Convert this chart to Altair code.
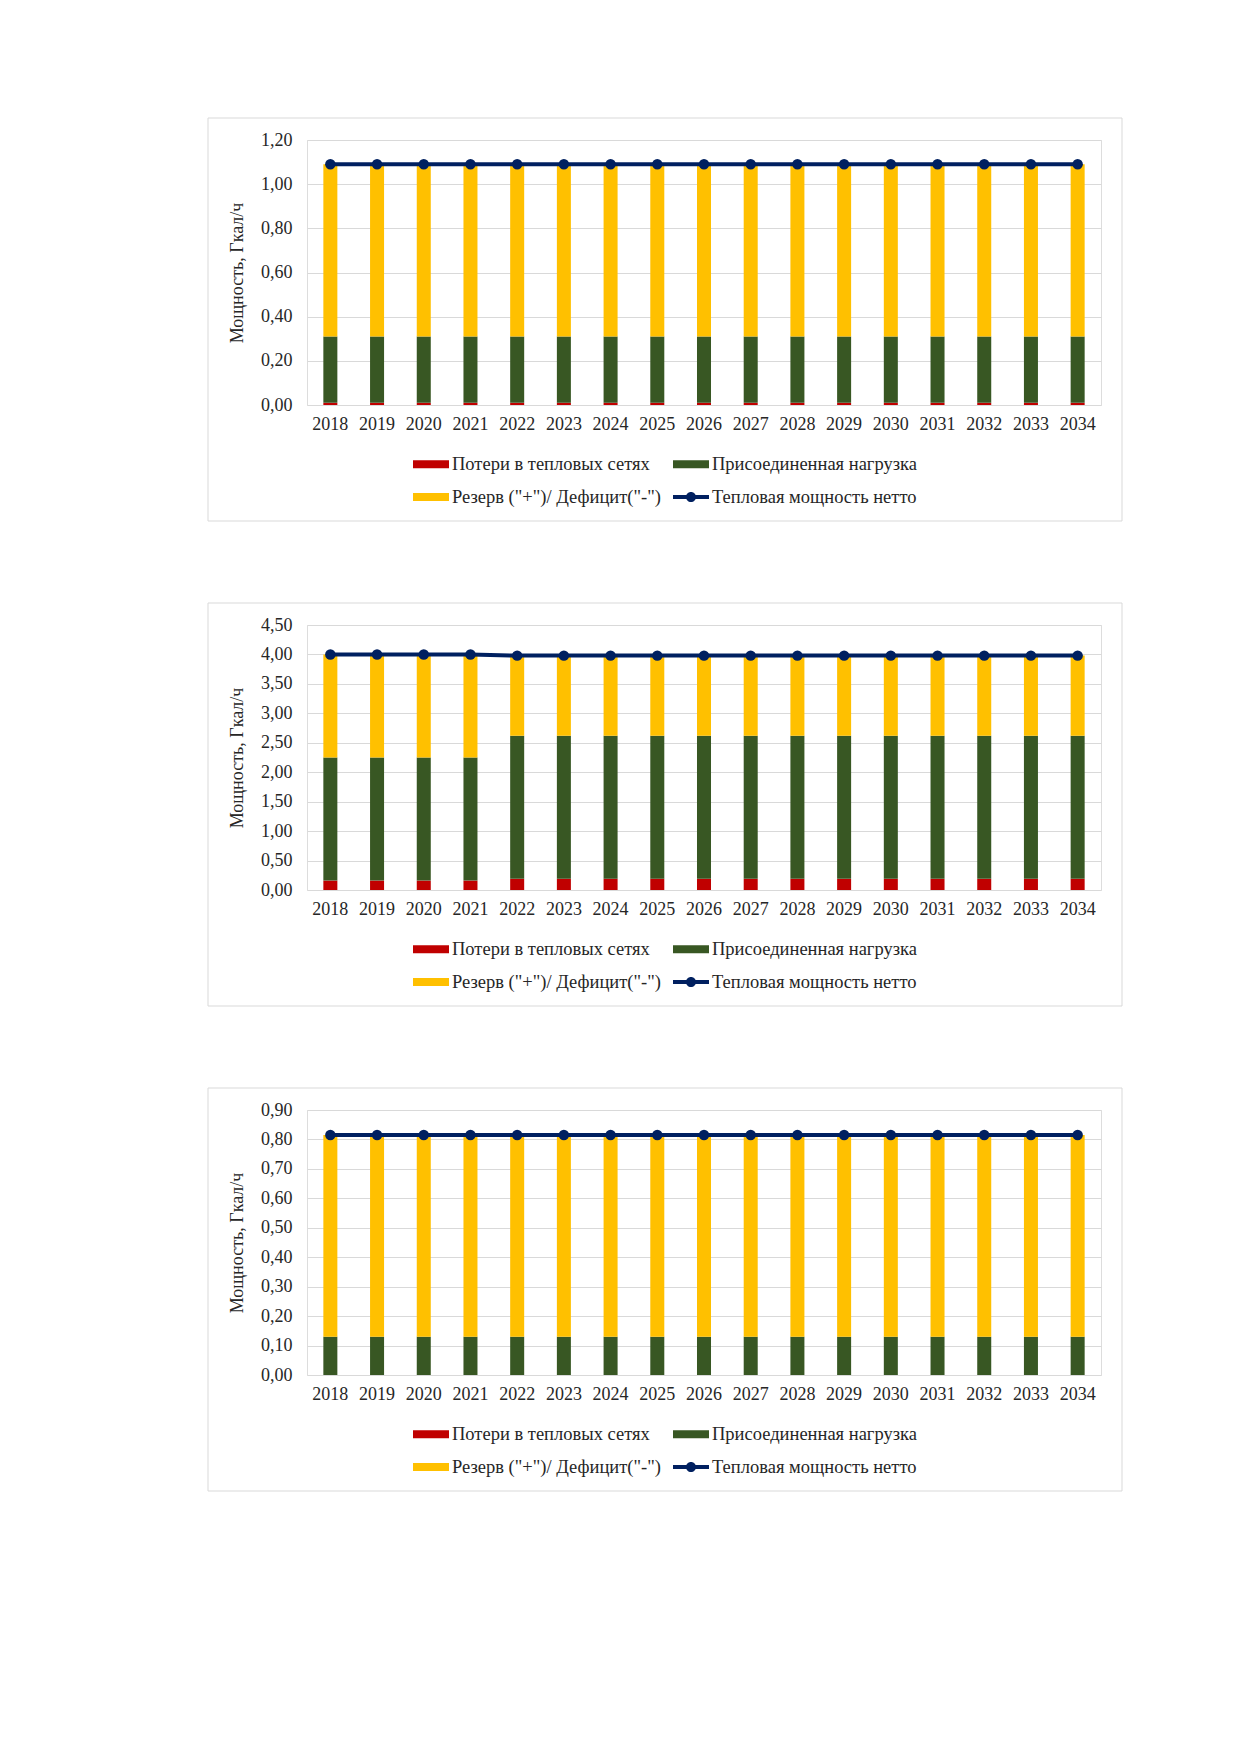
import altair as alt
import pandas as pd

years = ["2018", "2019", "2020", "2021", "2022", "2023", "2024", "2025", "2026",
         "2027", "2028", "2029", "2030", "2031", "2032", "2033", "2034"]

series_names = ["Потери в тепловых сетях", "Присоединенная нагрузка",
                'Резерв ("+")/ Дефицит("-")', "Тепловая мощность нетто"]
series_colors = ["#C00000", "#385723", "#FFC000", "#002060"]

# Chart 1
c1_losses = [0.01, 0.01, 0.01, 0.01, 0.01, 0.01, 0.01, 0.01, 0.01, 0.01, 0.01, 0.01, 0.01, 0.01, 0.01, 0.01, 0.01]
c1_load = [0.30, 0.30, 0.30, 0.30, 0.30, 0.30, 0.30, 0.30, 0.30, 0.30, 0.30, 0.30, 0.30, 0.30, 0.30, 0.30, 0.30]
c1_reserve = [0.78, 0.78, 0.78, 0.78, 0.78, 0.78, 0.78, 0.78, 0.78, 0.78, 0.78, 0.78, 0.78, 0.78, 0.78, 0.78, 0.78]
c1_net = [1.09, 1.09, 1.09, 1.09, 1.09, 1.09, 1.09, 1.09, 1.09, 1.09, 1.09, 1.09, 1.09, 1.09, 1.09, 1.09, 1.09]
c1_ticks = [0.0, 0.2, 0.4, 0.6, 0.8, 1.0, 1.2]

# Chart 2
c2_losses = [0.16, 0.16, 0.16, 0.16, 0.19, 0.19, 0.19, 0.19, 0.19, 0.19, 0.19, 0.19, 0.19, 0.19, 0.19, 0.19, 0.19]
c2_load = [2.09, 2.09, 2.09, 2.09, 2.43, 2.43, 2.43, 2.43, 2.43, 2.43, 2.43, 2.43, 2.43, 2.43, 2.43, 2.43, 2.43]
c2_reserve = [1.75, 1.75, 1.75, 1.75, 1.36, 1.36, 1.36, 1.36, 1.36, 1.36, 1.36, 1.36, 1.36, 1.36, 1.36, 1.36, 1.36]
c2_net = [4.00, 4.00, 4.00, 4.00, 3.98, 3.98, 3.98, 3.98, 3.98, 3.98, 3.98, 3.98, 3.98, 3.98, 3.98, 3.98, 3.98]
c2_ticks = [0.0, 0.5, 1.0, 1.5, 2.0, 2.5, 3.0, 3.5, 4.0, 4.5]

# Chart 3
c3_losses = [0.0, 0.0, 0.0, 0.0, 0.0, 0.0, 0.0, 0.0, 0.0, 0.0, 0.0, 0.0, 0.0, 0.0, 0.0, 0.0, 0.0]
c3_load = [0.13, 0.13, 0.13, 0.13, 0.13, 0.13, 0.13, 0.13, 0.13, 0.13, 0.13, 0.13, 0.13, 0.13, 0.13, 0.13, 0.13]
c3_reserve = [0.685, 0.685, 0.685, 0.685, 0.685, 0.685, 0.685, 0.685, 0.685, 0.685, 0.685, 0.685, 0.685, 0.685, 0.685, 0.685, 0.685]
c3_net = [0.815, 0.815, 0.815, 0.815, 0.815, 0.815, 0.815, 0.815, 0.815, 0.815, 0.815, 0.815, 0.815, 0.815, 0.815, 0.815, 0.815]
c3_ticks = [0.0, 0.1, 0.2, 0.3, 0.4, 0.5, 0.6, 0.7, 0.8, 0.9]

FONT = "Liberation Serif"
TXT = "#262626"
GRID = "#D9D9D9"
PLOT_W = 794
PLOT_H = 265

LINE_SYM = ("M-1,-0.11L1,-0.11L1,0.11L-1,0.11Z "
            "M-0.28,0A0.28,0.28 0 1,1 0.28,0A0.28,0.28 0 1,1 -0.28,0Z")
RECT_SYM = "M-1,-0.22L1,-0.22L1,0.22L-1,0.22Z"
sym_expr = ("datum.value == '" + series_names[3] + "' ? '" + LINE_SYM + "' : '" + RECT_SYM + "'")


def panel(losses, load, reserve, net, ticks):
    rows = []
    for i, yr in enumerate(years):
        rows.append({"year": yr, "series": series_names[0], "value": losses[i], "k": 0})
        rows.append({"year": yr, "series": series_names[1], "value": load[i], "k": 1})
        rows.append({"year": yr, "series": series_names[2], "value": reserve[i], "k": 2})
    bars_df = pd.DataFrame(rows)
    net_df = pd.DataFrame({"year": years, "net": net})

    xenc = alt.X("year:N", sort=years,
                 scale=alt.Scale(paddingInner=0.7, paddingOuter=0.35),
                 axis=alt.Axis(title=None, labelAngle=0, domain=False, ticks=False,
                               grid=False, labelFont=FONT, labelFontSize=18,
                               labelColor=TXT, labelPadding=10))
    yscale = alt.Scale(domain=[ticks[0], ticks[-1]], nice=False, zero=True)
    yaxis = alt.Axis(title="Мощность, Гкал/ч", values=ticks,
                     labelExpr="replace(format(datum.value, '.2f'), '.', ',')",
                     domain=False, ticks=False, grid=True, gridColor=GRID, gridWidth=1,
                     labelFont=FONT, labelFontSize=18, labelColor=TXT, labelPadding=15,
                     titleFont=FONT, titleFontSize=18, titleFontWeight="normal",
                     titleColor=TXT, titlePadding=14)

    border = alt.Chart(pd.DataFrame({"b": [0]})).mark_rect(
        fillOpacity=0, stroke=GRID, strokeWidth=1
    ).encode(x=alt.value(-99), x2=alt.value(815), y=alt.value(-22), y2=alt.value(381))

    bars = alt.Chart(bars_df).mark_bar().encode(
        x=xenc,
        y=alt.Y("value:Q", stack="zero", scale=yscale, axis=yaxis),
        color=alt.Color("series:N",
                        scale=alt.Scale(domain=series_names, range=series_colors),
                        legend=alt.Legend(title=None, orient="none", legendX=106, legendY=306,
                                          columns=2, direction="horizontal",
                                          symbolType={"expr": sym_expr}, symbolSize=1296,
                                          symbolStrokeWidth=0, symbolOpacity=1,
                                          labelFont=FONT, labelFontSize=18.5, labelColor=TXT,
                                          labelLimit=500, labelOffset=3,
                                          columnPadding=12, rowPadding=5)),
        order=alt.Order("k:Q"),
    )
    line = alt.Chart(net_df).mark_line(color="#002060", strokeWidth=4).encode(
        x=xenc, y=alt.Y("net:Q", scale=yscale, axis=yaxis))
    pts = alt.Chart(net_df).mark_circle(color="#002060", size=110, opacity=1).encode(
        x=xenc, y=alt.Y("net:Q", scale=yscale, axis=yaxis))
    return alt.layer(border, bars, line, pts).properties(width=PLOT_W, height=PLOT_H)


p1 = panel(c1_losses, c1_load, c1_reserve, c1_net, c1_ticks)
p2 = panel(c2_losses, c2_load, c2_reserve, c2_net, c2_ticks)
p3 = panel(c3_losses, c3_load, c3_reserve, c3_net, c3_ticks)

chart = alt.vconcat(p1, p2, p3, spacing=80).resolve_scale(
    color="independent", y="independent", x="independent"
).resolve_legend(color="independent").properties(
    padding={"left": 199, "top": 109, "right": 5, "bottom": 5}
).configure_view(stroke=None).configure(font=FONT, background="white")

chart.save("out.html", embed_options={"renderer": "svg", "actions": False})
